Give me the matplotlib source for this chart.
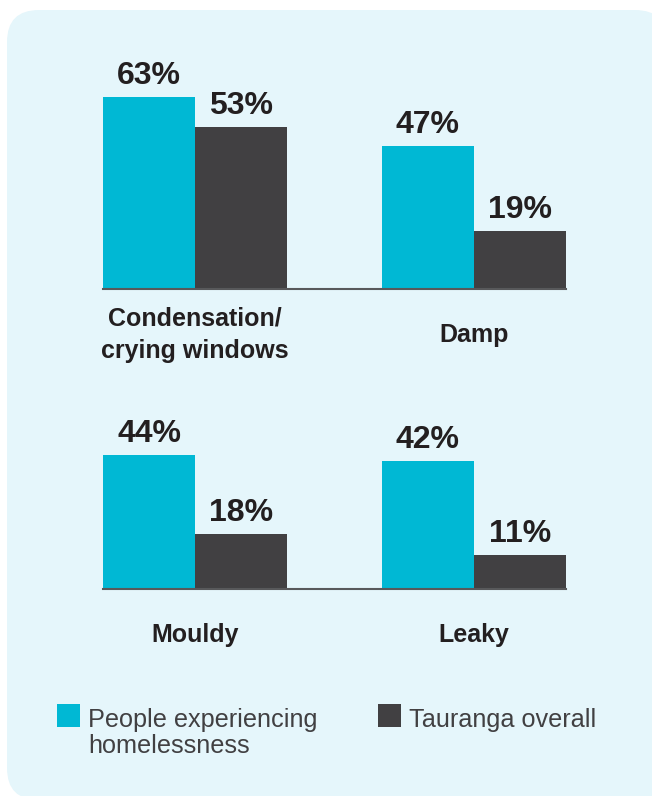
import matplotlib
matplotlib.use('Agg')
import matplotlib.pyplot as plt
from matplotlib.patches import FancyBboxPatch, Rectangle

plt.rcParams['font.family'] = ['Liberation Sans', 'DejaVu Sans']

# data
categories_top = ['Condensation/\ncrying windows', 'Damp']
homeless_top = [63, 47]
tauranga_top = [53, 19]
categories_bottom = ['Mouldy', 'Leaky']
homeless_bottom = [44, 42]
tauranga_bottom = [18, 11]
legend_labels = ['People experiencing\nhomelessness', 'Tauranga overall']

CYAN = '#00b8d4'
DARK = '#414042'
BG = '#e5f6fb'
TEXT = '#231f20'

W, H = 652, 796
PX = 0.72  # points per pixel at dpi 100

fig = plt.figure(figsize=(W / 100, H / 100), dpi=100)
fig.patch.set_facecolor('white')

# background panel, in pixel coordinates
bg = fig.add_axes([0, 0, 1, 1])
bg.set_xlim(0, W)
bg.set_ylim(H, 0)
bg.axis('off')
bg.add_patch(FancyBboxPatch((7, 10), 660, 790,
                            boxstyle='round,pad=0,rounding_size=32',
                            fc=BG, ec='none'))


def panel(baseline_px, cats, a, b):
    ymax = 70
    ax = fig.add_axes([103 / W, 1 - baseline_px / H, 463 / W, ymax * 3.05 / H])
    ax.set_facecolor('none')
    w = 0.33
    x = list(range(len(cats)))
    ax.bar([i - w / 2 for i in x], a, w, color=CYAN, zorder=2)
    ax.bar([i + w / 2 for i in x], b, w, color=DARK, zorder=2)
    ax.set_xlim(-w, x[-1] + w)
    ax.set_ylim(0, ymax)
    for s in ['top', 'left', 'right']:
        ax.spines[s].set_visible(False)
    ax.spines['bottom'].set_color('#58595b')
    ax.spines['bottom'].set_linewidth(1.5)
    ax.spines['bottom'].set_zorder(3)
    ax.set_xticks([])
    ax.set_yticks([])
    for i in x:
        for xx, v in [(i - w / 2, a[i]), (i + w / 2, b[i])]:
            ax.annotate(f'{v}%', xy=(xx, v), xytext=(0, 13 * PX),
                        textcoords='offset points', ha='center', va='baseline',
                        fontsize=23, fontweight='bold', color=TEXT,
                        annotation_clip=False)
        ax.annotate(cats[i], xy=(i, 0), xytext=(0, -46 * PX),
                    textcoords='offset points', ha='center', va='center',
                    fontsize=18, fontweight='bold', color=TEXT,
                    linespacing=1.45, annotation_clip=False)
    return ax


panel(289, categories_top, homeless_top, tauranga_top)
panel(589, categories_bottom, homeless_bottom, tauranga_bottom)

# legend
for (sx, tx), col, lab in zip([(57, 88), (378, 409)], [CYAN, DARK], legend_labels):
    bg.add_patch(Rectangle((sx, 704), 23, 23, fc=col, ec='none'))
    nlines = lab.count('\n')
    bg.text(tx, 727 + 26 * nlines, lab, ha='left', va='baseline', fontsize=18.2,
            color='#414042', linespacing=1.08)

fig.savefig('out.png', dpi=100)
